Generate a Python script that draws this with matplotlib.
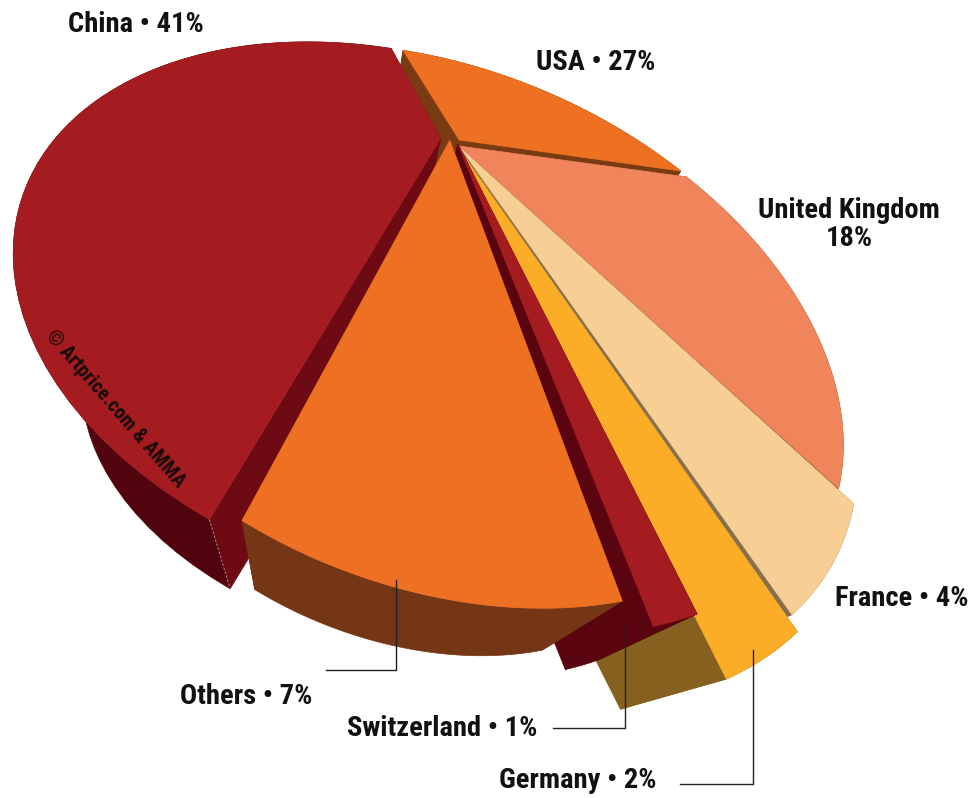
import numpy as np
import matplotlib
matplotlib.use('Agg')
import matplotlib.pyplot as plt
from matplotlib import font_manager
from matplotlib.patches import Polygon

# clockwise from the China / USA cut
countries = ['USA', 'United Kingdom', 'France', 'Germany', 'Switzerland', 'Others', 'China']
shares = [27, 18, 4, 2, 1, 7, 41]

top_colors = ['#EE7023', '#F0845A', '#F7CE94', '#FCAD27', '#A41C20', '#EE7023', '#A41C20']
rim_colors = ['#7A3A12', '#6E4630', '#857050', '#85601E', '#5A0410', '#743614', '#52040E']
cut_colors = ['#7A3A12', '#6E4630', '#857050', '#85601E', '#5A0410', '#743614', '#6E0A14']

# radial pull of each slice in the pie plane, and a sideways slide along the rim
explode = [0.04, 0.0, 0.018, 0.028, -0.012, -0.025, 0.065]
slide = [-0.02, 0, 0.001, 0.006, 0, 0.033, 0.025]
# rim swell of each slice, the China rim is fuller than a true ellipse
bulge = [0, 0, 0, 0, 0, 0, 0.013]

# painting order, far slices first
draw_order = [0, 1, 2, 3, 4, 6, 5]

# where the pie centre and the slice boundaries land on the page
center_px = (460, 147)
center_weight = 5
boundary_px = [(395, 47), (678, 170), (848, 488), (796, 627), (705, 640), (622, 600), (226, 526)]

vanish_px = np.array([294.0, 802.0])
depth = 0.245


def fit_homography(src, dst, weights):
    rows = []
    for (u, v), (x, y), w in zip(src, dst, weights):
        rows.append(np.array([u, v, 1, 0, 0, 0, -x*u, -x*v, -x]) * w)
        rows.append(np.array([0, 0, 0, u, v, 1, -y*u, -y*v, -y]) * w)
    _, _, vt = np.linalg.svd(np.array(rows, dtype=float) / 100.0)
    return vt[-1].reshape(3, 3)


def project(H, u, v):
    p = H @ np.vstack([u, v, np.ones_like(u)])
    return np.column_stack([p[0] / p[2], p[1] / p[2]])


edges = np.radians(np.cumsum([0] + shares) * 3.6)

src = [(0.0, 0.0)] + [(np.cos(a), np.sin(a)) for a in edges[:-1]]
dst = [center_px] + boundary_px
H = fit_homography(src, dst, [center_weight] + [1] * len(boundary_px))

available = {f.name for f in font_manager.fontManager.ttflist}
label_font = [f for f in ['Roboto Condensed', 'Liberation Sans'] if f in available] + ['DejaVu Sans']

fig = plt.figure(figsize=(9.77, 7.98), dpi=100)
ax = fig.add_axes([0, 0, 1, 1])
ax.set_xlim(0, 977)
ax.set_ylim(798, 0)
ax.axis('off')


def lower(points):
    return points + depth * (vanish_px - points)


z = 0
for i in draw_order:
    a0, a1 = edges[i], edges[i + 1]
    mid = (a0 + a1) / 2
    ox = explode[i] * np.cos(mid) - slide[i] * np.sin(mid)
    oy = explode[i] * np.sin(mid) + slide[i] * np.cos(mid)
    t = np.linspace(a0, a1, 80)
    frac = (t - a0) / (a1 - a0)
    r = 1 + bulge[i] * np.sin(np.pi * frac ** 0.6) ** 2
    rim = project(H, r * np.cos(t) + ox, r * np.sin(t) + oy)
    apex = project(H, np.array([ox]), np.array([oy]))
    # sides first, the top face goes over them
    for edge in (rim[:1], rim[-1:]):
        quad = np.vstack([apex, edge, lower(edge), lower(apex)])
        ax.add_patch(Polygon(quad, closed=True, fc=cut_colors[i], ec=cut_colors[i], lw=0.5, zorder=z))
    wall = np.vstack([rim, lower(rim)[::-1]])
    ax.add_patch(Polygon(wall, closed=True, fc=rim_colors[i], ec=rim_colors[i], lw=0.5, zorder=z + 1))
    top = np.vstack([apex, rim])
    ax.add_patch(Polygon(top, closed=True, fc=top_colors[i], ec=top_colors[i], lw=0.5, zorder=z + 2))
    z += 3
    if countries[i] == 'China':
        # faint seam on the corner of the wall
        seam = np.vstack([rim[:1], lower(rim[:1])])
        ax.plot(seam[:, 0], seam[:, 1], color='#c89090', lw=0.6, ls=(0, (3, 2)), zorder=z)
        z += 1

# leader lines
ax.plot([396, 396, 326], [580, 670, 670], color='#222222', lw=1, zorder=100)
ax.plot([625, 625, 553], [622, 728, 728], color='#222222', lw=1, zorder=100)
ax.plot([753, 753, 680], [650, 784, 784], color='#222222', lw=1, zorder=100)

label_kw = dict(family=label_font, weight='bold', fontsize=20.5, color='#111111', zorder=101)
ax.text(136, 24, 'China \u2022 41%', ha='center', va='center', **label_kw)
ax.text(596, 63, 'USA \u2022 27%', ha='center', va='center', **label_kw)
ax.text(849, 210, 'United Kingdom', ha='center', va='center', **label_kw)
ax.text(849, 238, '18%', ha='center', va='center', **label_kw)
ax.text(902, 598, 'France \u2022 4%', ha='center', va='center', **label_kw)
ax.text(246, 696, 'Others \u2022 7%', ha='center', va='center', **label_kw)
ax.text(442, 728, 'Switzerland \u2022 1%', ha='center', va='center', **label_kw)
ax.text(578, 781, 'Germany \u2022 2%', ha='center', va='center', **label_kw)
ax.text(115, 409, '\u00a9 Artprice.com & AMMA', ha='center', va='center', rotation=-49,
        rotation_mode='anchor', family=label_font, weight='bold', fontsize=14.5,
        color='#1a0a0a', zorder=101)

fig.savefig('out.png', dpi=100)
